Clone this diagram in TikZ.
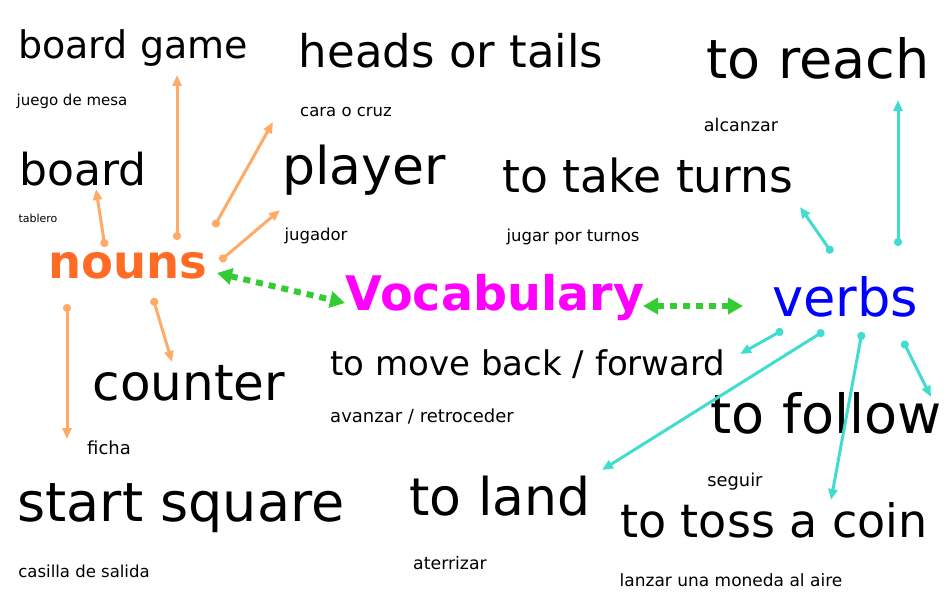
\documentclass[tikz,border=0pt]{standalone}
\usepackage{fontspec}
\setmainfont{DejaVu Sans}
\usetikzlibrary{arrows.meta}
\definecolor{naranja}{HTML}{FF6B24}
\definecolor{naranjaclaro}{HTML}{FFAA66}
\definecolor{turquesa}{HTML}{40DCCF}
\definecolor{verde}{HTML}{33CC33}
\definecolor{rosa}{HTML}{FF00FF}
\definecolor{azul}{HTML}{0000FF}
\tikzset{
  palabra/.style={inner sep=0pt, font=\fontsize{#1}{#1}\selectfont},
  negrita/.style={inner sep=0pt, font=\bfseries\fontsize{#1}{#1}\selectfont},
  traduccion/.style={inner sep=0pt, font=\fontsize{#1}{#1}\selectfont},
  traduccion/.default=16.5,
  flechan/.style={naranjaclaro, line width=3pt, {Circle[length=8pt]}-{Triangle[length=11pt,width=9pt]}},
  flechav/.style={turquesa, line width=3pt, {Circle[length=8pt]}-{Triangle[length=11pt,width=9pt]}},
  flechad/.style={verde, line width=6pt, dash pattern=on 7pt off 6pt, {Triangle[length=15pt,width=16pt]}-{Triangle[length=15pt,width=16pt]}}
}
\begin{document}
\begin{tikzpicture}[x=1pt,y=-1pt]
    \useasboundingbox (0,0) rectangle (951,599);

    % Centro
    \node[negrita=47.6, rosa] (vocab) at (495,298) {Vocabulary};
    \node[negrita=46.5, naranja] (nouns) at (128,266) {nouns};
    \node[palabra=52.6, azul] (verbs) at (845,297) {verbs};

    % Sustantivos
    \node[palabra=38] (bgame) at (133,48) {board game};
    \node[traduccion=15] (jmesa) at (72,101) {juego de mesa};
    \node[palabra=45] (heads) at (451,51) {heads or tails};
    \node[traduccion] (cara) at (346,112) {cara o cruz};
    \node[palabra=44] (board) at (83,169) {board};
    \node[traduccion=11] (tablero) at (38,218) {tablero};
    \node[palabra=52] (player) at (364,170) {player};
    \node[traduccion] (jugador) at (316,236) {jugador};
    \node[palabra=50] (counter) at (189,383) {counter};
    \node[traduccion=18] (ficha) at (109,448) {ficha};
    \node[palabra=54] (start) at (181,508) {start square};
    \node[traduccion] (salida) at (84,571) {casilla de salida};

    % Verbos
    \node[palabra=54] (reach) at (818,58) {to reach};
    \node[traduccion=17.5] (alcanzar) at (741,125) {alcanzar};
    \node[palabra=45.6] (turns) at (648,176) {to take turns};
    \node[traduccion] (jturnos) at (573,237) {jugar por turnos};
    \node[palabra=34] (mover) at (528,364) {to move back / forward};
    \node[traduccion=18] (avanzar) at (422,416) {avanzar / retroceder};
    \node[palabra=54] (follow) at (826,413) {to follow};
    \node[traduccion=17.8] (seguir) at (735,482) {seguir};
    \node[palabra=52] (land) at (500,496) {to land};
    \node[traduccion=17.3] (aterrizar) at (450,563) {aterrizar};
    \node[palabra=46] (toss) at (774,520) {to toss a coin};
    \node[traduccion=17] (lanzar) at (731,580) {lanzar una moneda al aire};

    % Extremos de las flechas
    \coordinate (nb1) at (105,247); \coordinate (nb2) at (96,189);
    \coordinate (ng1) at (177,240); \coordinate (ng2) at (177,75);
    \coordinate (nh1) at (214,227); \coordinate (nh2) at (273,122);
    \coordinate (np1) at (220,261); \coordinate (np2) at (280,210);
    \coordinate (nc1) at (153,298); \coordinate (nc2) at (172,362);
    \coordinate (ns1) at (67,304);  \coordinate (ns2) at (67,439);
    \coordinate (vt1) at (832,253); \coordinate (vt2) at (800,207);
    \coordinate (vr1) at (898,246); \coordinate (vr2) at (898,100);
    \coordinate (vm1) at (783,330); \coordinate (vm2) at (740,354);
    \coordinate (vl1) at (824,331); \coordinate (vl2) at (602,470);
    \coordinate (vc1) at (862,332); \coordinate (vc2) at (831,500);
    \coordinate (vf1) at (903,341); \coordinate (vf2) at (931,397);
    \coordinate (g1) at (217,273);  \coordinate (g2) at (345,303);
    \coordinate (g3) at (643,306);  \coordinate (g4) at (743,306);

    % Flechas de los sustantivos
    \draw[flechan] (nb1) -- (nb2);
    \draw[flechan] (ng1) -- (ng2);
    \draw[flechan] (nh1) -- (nh2);
    \draw[flechan] (np1) -- (np2);
    \draw[flechan] (nc1) -- (nc2);
    \draw[flechan] (ns1) -- (ns2);

    % Flechas de los verbos
    \draw[flechav] (vt1) -- (vt2);
    \draw[flechav] (vr1) -- (vr2);
    \draw[flechav] (vm1) -- (vm2);
    \draw[flechav] (vl1) -- (vl2);
    \draw[flechav] (vc1) -- (vc2);
    \draw[flechav] (vf1) -- (vf2);

    % Flechas verdes
    \draw[flechad] (g1) -- (g2);
    \draw[flechad] (g3) -- (g4);
\end{tikzpicture}
\end{document}
